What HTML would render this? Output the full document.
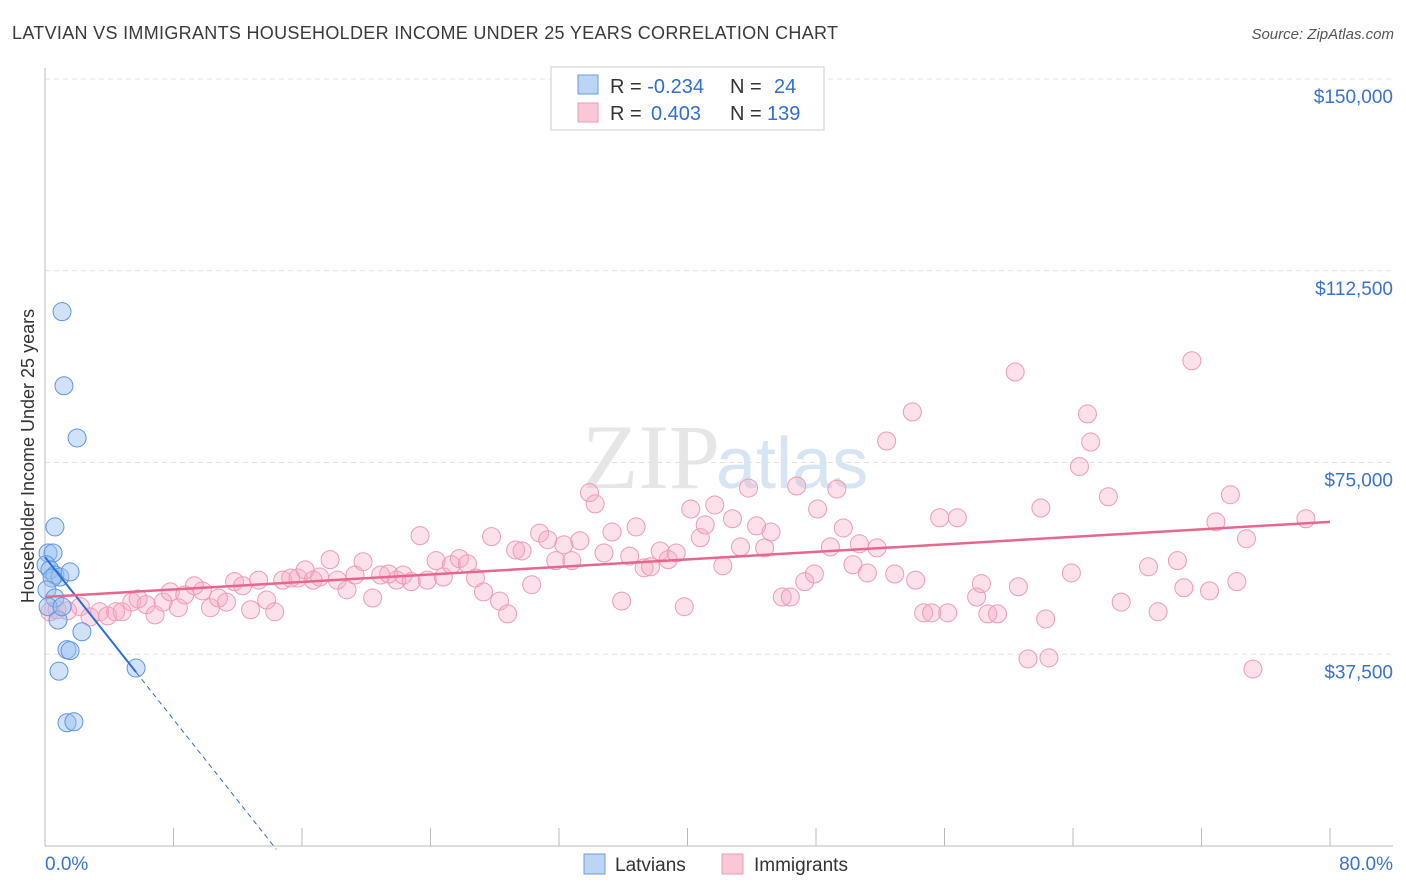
<!DOCTYPE html>
<html><head><meta charset="utf-8"><style>
body{margin:0;background:#fff;font-family:"Liberation Sans",sans-serif;}
svg{display:block}
</style></head><body>
<svg id="chart" width="1406" height="892">
<text x="12" y="39" font-size="18" fill="#3a3a3a" textLength="826">LATVIAN VS IMMIGRANTS HOUSEHOLDER INCOME UNDER 25 YEARS CORRELATION CHART</text>
<text x="1394" y="39" font-size="15" font-style="italic" fill="#555" text-anchor="end">Source: ZipAtlas.com</text>
<text x="720" y="488" font-size="92" font-family="Liberation Serif,serif" fill="#e6e6e6" text-anchor="end">ZIP</text>
<text x="716" y="488" font-size="72" fill="#d6e4f3">atlas</text>
<g id="grid"></g><g id="axes"></g><g id="marks"></g>
<text transform="translate(34,456) rotate(-90)" font-size="18" fill="#333" text-anchor="middle">Householder Income Under 25 years</text>
<g>
<rect x="551" y="67" width="273" height="63" fill="#fff" stroke="#ccc"/>
<rect x="578" y="75" width="20" height="19" fill="#bcd5f5" stroke="#6a9be0"/>
<rect x="578" y="103" width="20" height="19" fill="#f9c8d6" stroke="#ec9bb3"/>
<text x="610" y="93" font-size="20" fill="#333">R = <tspan fill="#2f6fd0">-0.234</tspan><tspan x="730">N = </tspan><tspan x="774" fill="#2f6fd0">24</tspan></text>
<text x="610" y="120" font-size="20" fill="#333">R = <tspan x="651" fill="#2f6fd0">0.403</tspan><tspan x="730">N = </tspan><tspan x="767" fill="#2f6fd0">139</tspan></text>
</g>
<g>
<rect x="584" y="854" width="21" height="20" fill="#bcd5f5" stroke="#6a9be0"/>
<text x="615" y="871" font-size="19" fill="#333">Latvians</text>
<rect x="722" y="854" width="21" height="20" fill="#f9c8d6" stroke="#ec9bb3"/>
<text x="754" y="871" font-size="19" fill="#333">Immigrants</text>
</g>
</svg>
<script>
const yTicks=[37500,75000,112500,150000];
const yTickLabels=["$37,500","$75,000","$112,500","$150,000"];
const xTickLabels=["0.0%","80.0%"];
const latX=[1.06,1.18,2.0,0.62,0.19,0.5,0.06,0.31,0.62,0.93,1.56,0.44,0.12,0.62,0.19,0.81,1.06,2.3,1.37,1.56,0.87,5.67,1.37,1.8];
const latY=[104.5,90.0,79.8,62.4,57.3,57.3,55.0,54.0,53.0,52.6,53.6,52.4,50.1,48.5,46.8,44.2,46.8,41.9,38.4,38.2,34.2,34.8,24.1,24.3];
const immX=[0.3,0.75,1.4,2.2,2.8,3.4,3.9,4.4,4.8,5.4,5.8,6.3,6.85,7.35,7.8,8.3,8.7,9.3,9.8,10.3,10.8,11.3,11.8,12.3,12.8,13.3,13.8,14.3,14.8,15.3,15.75,16.2,16.7,17.1,17.75,18.2,18.8,19.3,19.8,20.4,20.9,21.4,21.9,22.3,22.8,23.35,23.8,24.35,24.8,25.3,25.8,26.3,26.8,27.3,27.8,28.3,28.8,29.3,29.7,30.3,30.8,31.3,31.8,32.3,32.8,33.3,33.9,34.25,34.8,35.3,35.9,36.4,36.8,37.3,37.7,38.3,38.8,39.3,39.8,40.2,40.8,41.1,41.7,42.2,42.8,43.3,43.8,44.3,44.8,45.2,45.9,46.4,46.8,47.3,47.9,48.1,48.9,49.3,49.7,50.3,50.7,51.2,51.8,52.4,52.9,54.0,54.2,54.7,55.2,55.7,56.2,56.8,58.0,58.3,58.7,59.3,60.4,60.6,61.2,62.0,62.3,62.5,63.9,64.4,64.9,65.1,66.2,67.0,68.7,69.3,70.5,70.9,71.4,72.5,72.9,73.8,74.2,74.8,75.2,78.5];
const immY=[45.8,46.2,46.0,46.8,44.8,45.8,45.0,45.8,45.8,47.7,48.3,47.2,45.2,47.7,49.7,46.6,49.1,50.9,49.9,46.6,48.5,47.7,51.7,50.9,46.2,52.0,48.1,45.8,52.0,52.4,52.4,54.0,52.0,52.6,56.0,52.0,50.1,53.0,55.6,48.5,53.0,53.2,52.0,53.0,51.7,60.7,52.0,55.8,52.6,55.0,56.2,55.2,52.4,49.7,60.5,47.9,45.4,57.9,57.7,51.1,61.2,59.9,55.8,58.9,55.8,59.7,69.1,66.9,57.3,61.4,47.9,56.7,62.4,54.4,54.6,57.7,56.0,57.3,46.8,65.9,60.3,62.8,66.7,54.8,64.0,58.5,70.0,62.6,58.3,61.4,48.7,48.7,70.4,51.7,53.2,65.9,58.5,69.8,62.2,55.0,59.1,53.4,58.3,79.2,53.2,84.9,52.0,45.6,45.6,64.2,45.6,64.2,48.7,51.3,45.4,45.4,92.7,50.7,36.6,66.1,44.4,36.8,53.4,74.2,84.5,79.0,68.3,47.7,54.6,45.8,55.8,50.5,94.9,49.9,63.4,68.7,51.7,60.1,34.6,64.0];
const latTrend=[56.5,34.0];const latTrendX=[0,5.67];const latDashEndX=14.4;
const immTrend=[48.7,63.4];
const NS="http://www.w3.org/2000/svg";
const X=v=>45+v/80*1285;
const Y=v=>846-v/150000*767;
function mk(p,t,a){const e=document.createElementNS(NS,t);for(const k in a)e.setAttribute(k,a[k]);p.appendChild(e);return e;}
const grid=document.getElementById('grid'),axes=document.getElementById('axes'),marks=document.getElementById('marks');
yTicks.forEach((t,i)=>{
 const l=mk(grid,'line',{x1:45,x2:1393,y1:Y(t),y2:Y(t),stroke:'#e2e2e2','stroke-dasharray':'5,4'});
 
 
 const tx=mk(axes,'text',{x:1393,y:Y(t)+24,'font-size':19,fill:'#3a72d0','text-anchor':'end'});
 tx.textContent=yTickLabels[i];
 
 
});
const ya=mk(axes,'line',{x1:45,x2:45,y1:68,y2:846,stroke:'#bbb'});


const xa=mk(axes,'line',{x1:45,x2:1393,y1:846,y2:846,stroke:'#bbb'});


for(let i=1;i<=10;i++){const t=mk(axes,'line',{x1:X(i*8),x2:X(i*8),y1:828,y2:846,stroke:'#bbb'});
 
 }
[[0,'start'],[80,'end']].forEach((d,i)=>{const t=mk(axes,'text',{x:i?1393:45,y:870,'font-size':19,fill:'#3a72d0','text-anchor':d[1]});t.textContent=xTickLabels[i];
 
 });
immX.forEach((x,i)=>{const c=mk(marks,'circle',{cx:X(x),cy:Y(immY[i]*1000),r:9,fill:'rgba(246,170,195,0.35)',stroke:'#ef9ab5','stroke-width':1});
 
 });
latX.forEach((x,i)=>{const c=mk(marks,'circle',{cx:X(x),cy:Y(latY[i]*1000),r:9,fill:'rgba(150,190,240,0.45)',stroke:'#5f95e0','stroke-width':1});
 
 });
const slope=(latTrend[1]-latTrend[0])/(latTrendX[1]-latTrendX[0]);
const l1=mk(marks,'line',{x1:X(0),y1:Y(latTrend[0]*1000),x2:X(latTrendX[1]),y2:Y(latTrend[1]*1000),stroke:'#2a6fd6','stroke-width':2});


const l2=mk(marks,'line',{x1:X(latTrendX[1]),y1:Y(latTrend[1]*1000),x2:X(latDashEndX),y2:Y((latTrend[0]+slope*latDashEndX)*1000),stroke:'#2a6fd6','stroke-width':1,'stroke-dasharray':'5,4'});


const l3=mk(marks,'line',{x1:X(0),y1:Y(immTrend[0]*1000),x2:X(80),y2:Y(immTrend[1]*1000),stroke:'#e8668e','stroke-width':2.5});


</script>
</body></html>
